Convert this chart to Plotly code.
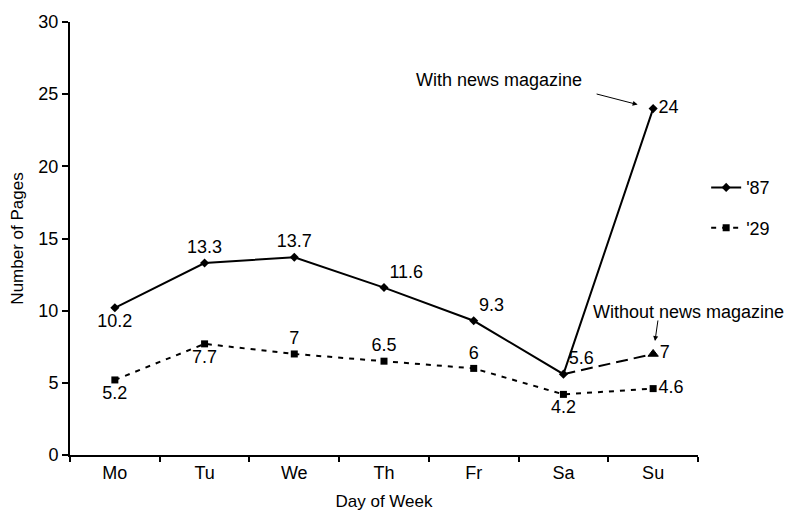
import plotly.graph_objects as go

days = ["Mo", "Tu", "We", "Th", "Fr", "Sa", "Su"]
pages_87 = [10.2, 13.3, 13.7, 11.6, 9.3, 5.6, 24]
pages_29 = [5.2, 7.7, 7, 6.5, 6, 4.2, 4.6]
# Sunday 1987 edition without the news magazine
sunday_87_without = 7

pos_87 = ["bottom center", "top center", "top center", "top right",
          "top right", "top right", "middle right"]
pos_29 = ["bottom center", "bottom center", "top center", "top center",
          "top center", "bottom center", "middle right"]

FONT = "Liberation Sans, Arial, Helvetica, sans-serif"
TXT = dict(size=18, color="black", family=FONT)

fig = go.Figure()

fig.add_trace(go.Scatter(
    x=days, y=pages_87, name="'87",
    mode="lines+markers+text",
    line=dict(color="black", width=2),
    marker=dict(symbol="diamond", size=7, color="black"),
    text=[f"{v:g}" for v in pages_87], textposition=pos_87,
    textfont=TXT, legendgroup="a", hoverinfo="x+y",
))

fig.add_trace(go.Scatter(
    x=days, y=pages_29, name="'29",
    mode="lines+markers+text",
    line=dict(color="black", width=2, dash="5px,6px"),
    marker=dict(symbol="square", size=7, color="black"),
    text=[f"{v:g}" for v in pages_29], textposition=pos_29,
    textfont=TXT, legendgroup="b", hoverinfo="x+y",
))

# Sa -> Su without the news magazine
fig.add_trace(go.Scatter(
    x=days[5:7], y=[pages_87[5], sunday_87_without],
    mode="lines",
    line=dict(color="black", width=2, dash="12px,6px"),
    showlegend=False, hoverinfo="skip",
))
fig.add_trace(go.Scatter(
    x=[days[6]], y=[sunday_87_without],
    mode="markers+text",
    marker=dict(symbol="triangle-up", size=9, color="black",
                line=dict(color="black", width=1)),
    text=[f"{sunday_87_without:g}"], textposition="middle right",
    textfont=TXT, showlegend=False, hoverinfo="x+y",
))

# notes with arrows
fig.add_annotation(
    x="Su", y=pages_87[6], xref="x", yref="y", ax=-58, ay=-15,
    text="", showarrow=True, arrowhead=2, arrowsize=1, arrowwidth=1,
    arrowcolor="black", standoff=16,
)
fig.add_annotation(
    x="Su", y=sunday_87_without, xref="x", yref="y", ax=5, ay=-35,
    text="", showarrow=True, arrowhead=2, arrowsize=1, arrowwidth=1,
    arrowcolor="black", standoff=13,
)
fig.add_annotation(
    x=4.28, y=26.0, xref="x", yref="y", text="With news magazine",
    showarrow=False, font=TXT,
)
fig.add_annotation(
    x=6.39, y=9.9, xref="x", yref="y", text="Without news magazine",
    showarrow=False, font=TXT,
)

fig.update_layout(
    width=789, height=525,
    margin=dict(l=70, r=91, t=16, b=70),
    paper_bgcolor="white", plot_bgcolor="white",
    font=dict(family=FONT, size=18, color="black"),
    showlegend=True,
    legend=dict(x=1.013, y=0.66, xanchor="left", yanchor="top",
                font=TXT, tracegroupgap=14,
                bgcolor="rgba(0,0,0,0)"),
    xaxis=dict(
        type="category", categoryorder="array", categoryarray=days,
        range=[-0.5, 6.5],
        showline=True, linecolor="black", linewidth=2,
        ticks="outside", ticklen=5, tickcolor="black", tickwidth=2,
        tickson="boundaries", showgrid=False, zeroline=False,
        title=dict(text="Day of Week", font=dict(size=17), standoff=14),
        tickfont=TXT,
    ),
    yaxis=dict(
        range=[0, 30], dtick=5,
        showline=True, linecolor="black", linewidth=2,
        ticks="outside", ticklen=6, tickcolor="black", tickwidth=2,
        showgrid=False, zeroline=False,
        title=dict(text="Number of Pages", font=dict(size=17), standoff=10),
        tickfont=TXT,
    ),
)

fig.write_html("out.html")
